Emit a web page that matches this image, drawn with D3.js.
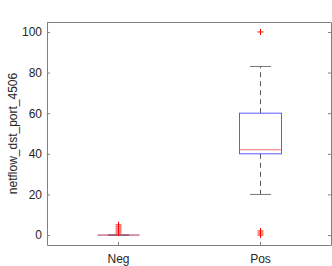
<!DOCTYPE html>
<html>
<meta charset="utf-8">
<head>
<script src="https://cdn.jsdelivr.net/npm/d3@7"></script>
<style>
  body { margin: 0; background: #fff; }
  text { font-family: "Liberation Sans", Arial, sans-serif; }
</style>
</head>
<body>
<script>
// groups and their box stats
const categories = ["Neg", "Pos"];
const q1 = [0, 40];
const medians = [0, 42];
const q3 = [0, 60];
const whiskerLow = [0, 20];
const whiskerHigh = [0, 83];
const outliers = [[1, 2, 3, 4, 5], [0, 1, 2, 100]];
const yTicks = [0, 20, 40, 60, 80, 100];
const yLabel = "netflow_dst_port_4506";

const W = 332, H = 266;
const mLeft = 47, mRight = 331, mTop = 22, mBottom = 245;

const svg = d3.select("body").append("svg")
  .attr("width", W).attr("height", H);

const x = d3.scaleLinear().domain([0.5, 2.5]).range([mLeft, mRight]);
const y = d3.scaleLinear().domain([-4.9, 104.9]).range([mBottom, mTop]);

const boxHalf = 21, capHalf = 10.5;
const axisColor = "#808080";
const textColor = "#262626";

// axes (ticks pointing inward, mirrored on the right)
const yAxisL = d3.axisLeft(y).tickValues(yTicks).tickSizeInner(-3).tickSizeOuter(0).tickPadding(5);
const yAxisR = d3.axisRight(y).tickValues(yTicks).tickSizeInner(-3).tickSizeOuter(0).tickFormat("");
const xAxis = d3.axisBottom(x).tickValues([1, 2]).tickFormat((d, i) => categories[i])
  .tickSizeInner(-3).tickSizeOuter(0).tickPadding(9);

const gl = svg.append("g").attr("transform", `translate(${mLeft},0)`).call(yAxisL);
const gr = svg.append("g").attr("transform", `translate(${mRight},0)`).call(yAxisR);
const gb = svg.append("g").attr("transform", `translate(0,${mBottom})`).call(xAxis);
svg.append("line").attr("x1", mLeft).attr("x2", mRight).attr("y1", mTop + 0.5).attr("y2", mTop + 0.5)
  .attr("stroke", axisColor);

[gl, gr, gb].forEach(g => {
  g.select(".domain").attr("stroke", axisColor);
  g.selectAll(".tick line").attr("stroke", axisColor);
  g.selectAll(".tick text").attr("fill", textColor).attr("font-size", 12)
    .attr("font-family", "Liberation Sans, Arial, sans-serif");
});

svg.append("text")
  .attr("transform", `translate(17,${(mTop + mBottom) / 2}) rotate(-90)`)
  .attr("text-anchor", "middle")
  .attr("font-size", 12)
  .attr("fill", textColor)
  .text(yLabel);

// boxes
categories.forEach((c, i) => {
  const cx = Math.round(x(i + 1)) + 0.5;
  const g = svg.append("g");
  // whiskers
  g.append("line").attr("x1", cx).attr("x2", cx)
    .attr("y1", y(q3[i])).attr("y2", y(whiskerHigh[i]))
    .attr("stroke", "#555").attr("stroke-dasharray", "5,4");
  g.append("line").attr("x1", cx).attr("x2", cx)
    .attr("y1", y(q1[i])).attr("y2", y(whiskerLow[i]))
    .attr("stroke", "#555").attr("stroke-dasharray", "5,4");
  [whiskerLow[i], whiskerHigh[i]].forEach(v => {
    g.append("line").attr("x1", cx - capHalf).attr("x2", cx + capHalf)
      .attr("y1", y(v)).attr("y2", y(v)).attr("stroke", "#777");
  });
  // box
  g.append("rect")
    .attr("x", cx - boxHalf).attr("width", boxHalf * 2)
    .attr("y", y(q3[i])).attr("height", Math.max(0, y(q1[i]) - y(q3[i])))
    .attr("fill", "none").attr("stroke", "#5a5aff");
  // median
  g.append("line").attr("x1", cx - boxHalf).attr("x2", cx + boxHalf)
    .attr("y1", y(medians[i])).attr("y2", y(medians[i]))
    .attr("stroke", i === 0 ? "#b03060" : "#f07070");
  // outliers
  outliers[i].forEach(v => {
    const py = y(v);
    g.append("path")
      .attr("d", `M${cx - 3},${py}H${cx + 3}M${cx},${py - 3}V${py + 3}`)
      .attr("stroke", "red").attr("fill", "none");
  });
});
</script>
</body>
</html>
